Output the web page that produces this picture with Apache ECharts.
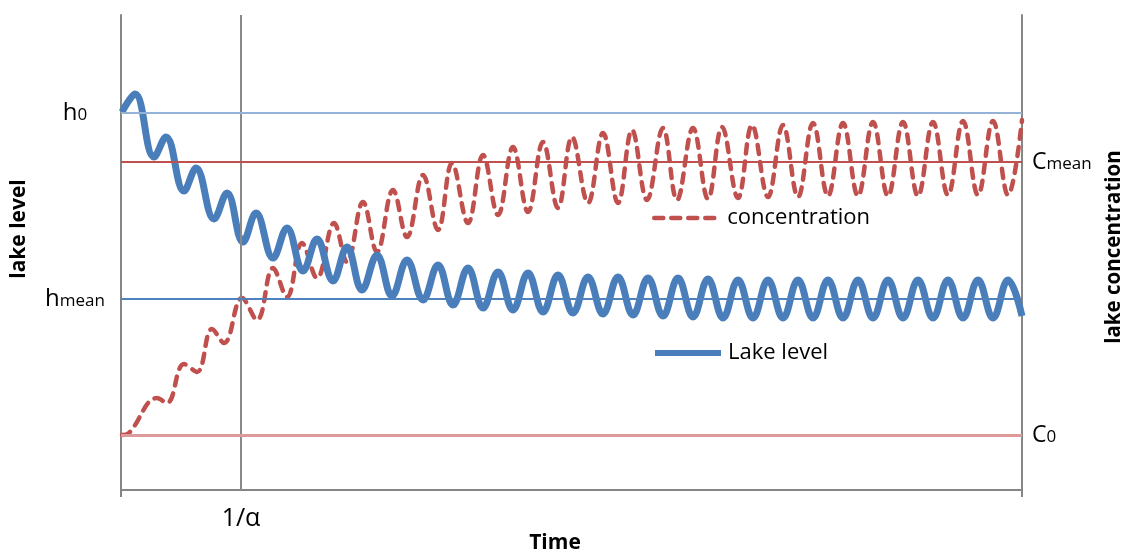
<!DOCTYPE html>
<html>
<head>
<meta charset="utf-8">
<script src="https://cdn.jsdelivr.net/npm/echarts@6/dist/echarts.min.js"></script>
<style>
  html, body { margin: 0; padding: 0; background: #fff; }
  #chart { width: 1125px; height: 553px; }
</style>
</head>
<body>
<div id="chart"></div>
<script>
// time axis (arbitrary units), 1/alpha at 120
const timeMax = 901;
const alphaTime = 120;

// reference levels (arbitrary units)
const h0 = 377, hMean = 191;
const cMean = 328, c0 = 55;

// lake level: turning points
const levelTime = [1, 14, 33, 45, 63, 75, 93, 106, 122, 135, 152, 166, 182, 196, 212, 226, 241, 256, 271, 286,
  302, 317, 332, 347, 362, 377, 392, 407, 422, 437, 452, 467, 482, 497, 512, 527, 542, 557, 572, 587,
  602, 617, 632, 647, 662, 677, 692, 707, 722, 737, 752, 767, 782, 797, 812, 827, 842, 857, 872, 887, 901];
const levelValues = [378, 396, 333, 353, 299, 322, 271, 297, 248, 277, 232, 262, 219, 251, 209, 243, 200, 235, 194, 230,
  190, 225, 185, 222, 182, 218, 180, 217, 178, 215, 177, 213, 176, 213, 175, 212, 174, 212, 173, 211,
  172, 210, 172, 210, 172, 210, 172, 210, 172, 210, 172, 210, 172, 210, 172, 210, 172, 210, 172, 210, 174];

// concentration: turning points
const concTime = [1, 8, 36, 46, 63, 76, 91, 103, 121, 136, 152, 166, 181, 196, 213, 226, 242, 256, 272, 286,
  302, 317, 331, 347, 362, 377, 392, 407, 422, 437, 451, 467, 482, 497, 511, 526, 542, 556, 572, 587,
  601, 617, 631, 647, 662, 677, 692, 707, 722, 737, 752, 767, 782, 797, 812, 827, 842, 857, 872, 887, 901];
const concValues = [55, 57, 92, 87, 126, 118, 161, 147, 192, 170, 222, 193, 247, 212, 267, 228, 288, 238, 300, 253,
  315, 260, 327, 267, 335, 275, 343, 278, 348, 282, 353, 287, 357, 287, 360, 290, 362, 290, 362, 291,
  363, 292, 365, 293, 365, 293, 367, 294, 367, 294, 368, 294, 368, 294, 368, 295, 369, 295, 369, 295, 370];

const font = 'Open Sans';
const axisGray = '#868686';
const concDash = [9, 8];

const chart = echarts.init(document.getElementById('chart'));

function pairs(xs, ys) {
  return xs.map((x, i) => [x, ys[i]]);
}

chart.setOption({
  animation: false,
  textStyle: { fontFamily: font, color: '#000' },
  grid: {
    left: 121, right: 103, top: 15, bottom: 63,
    containLabel: false,
    outerBoundsMode: 'none'
  },
  legend: [
    {
      data: ['concentration'],
      left: 652, top: 207, padding: 0,
      itemWidth: 66, itemHeight: 16, itemGap: 0,
      itemStyle: { opacity: 0 },
      lineStyle: { width: 4.5, type: concDash, cap: 'round', color: '#c0504d' },
      textStyle: { fontFamily: font, fontSize: 22, color: '#000', padding: [0, 0, 0, 2] }
    },
    {
      data: ['Lake level'],
      left: 652, top: 342, padding: 0,
      itemWidth: 66, itemHeight: 16, itemGap: 0,
      itemStyle: { opacity: 0 },
      lineStyle: { width: 6, color: '#4a7ebb' },
      textStyle: { fontFamily: font, fontSize: 22, color: '#000', padding: [0, 0, 0, 2] }
    }
  ],
  xAxis: {
    type: 'value',
    min: 0, max: timeMax,
    axisLine: { show: true, lineStyle: { color: axisGray, width: 2 } },
    axisTick: { show: true, customValues: [0, timeMax], length: 7, inside: false,
      lineStyle: { color: axisGray, width: 2 } },
    axisLabel: {
      customValues: [alphaTime],
      formatter: () => '1/α',
      margin: 16,
      fontFamily: font, fontSize: 25, color: '#000'
    },
    splitLine: { show: false }
  },
  yAxis: [
    {
      type: 'value', position: 'left',
      min: 0, max: 475,
      axisLine: { show: true, lineStyle: { color: axisGray, width: 2 } },
      axisTick: { show: false },
      splitLine: { show: false },
      axisLabel: {
        customValues: [h0, hMean],
        align: 'center',
        margin: 46,
        formatter: v => v === h0 ? '{b|h}{s|0}' : '{b|h}{s|mean}',
        rich: {
          b: { fontFamily: font, fontSize: 24, color: '#000' },
          s: { fontFamily: font, fontSize: 17, color: '#000', padding: [5, 0, 0, 0] }
        }
      }
    },
    {
      type: 'value', position: 'right',
      min: 0, max: 475,
      axisLine: { show: true, lineStyle: { color: axisGray, width: 2 } },
      axisTick: { show: false },
      splitLine: { show: false },
      axisLabel: {
        customValues: [cMean, c0],
        align: 'left',
        margin: 10,
        formatter: v => v === cMean ? '{b|C}{s|mean}' : '{b|C}{s|0}',
        rich: {
          b: { fontFamily: font, fontSize: 23, color: '#000' },
          s: { fontFamily: font, fontSize: 17, color: '#000', padding: [5, 0, 0, 0] }
        }
      }
    }
  ],
  graphic: [
    { type: 'text', x: 19, y: 229, rotation: Math.PI / 2,
      style: { text: 'lake level', fontFamily: font, fontSize: 21, fontWeight: 'bold',
        fill: '#000', align: 'center', verticalAlign: 'middle' } },
    { type: 'text', x: 1114, y: 247, rotation: Math.PI / 2,
      style: { text: 'lake concentration', fontFamily: font, fontSize: 20.5, fontWeight: 'bold',
        fill: '#000', align: 'center', verticalAlign: 'middle' } },
    { type: 'text', x: 555, y: 543,
      style: { text: 'Time', fontFamily: font, fontSize: 21, fontWeight: 'bold',
        fill: '#000', align: 'center', verticalAlign: 'middle' } }
  ],
  series: [
    {
      name: 'concentration',
      type: 'line',
      symbol: 'none',
      smooth: 0.4,
      data: pairs(concTime, concValues),
      lineStyle: { color: '#c0504d', width: 4.5, type: concDash, cap: 'round' },
      itemStyle: { color: '#c0504d' },
      markLine: {
        silent: true, symbol: 'none', label: { show: false },
        data: [
          { xAxis: alphaTime, lineStyle: { color: '#898989', width: 2, type: 'solid' } },
          { yAxis: cMean, lineStyle: { color: '#c0504d', width: 2, type: 'solid' } },
          { yAxis: c0, lineStyle: { color: '#dc9a9a', width: 3, type: 'solid' } }
        ]
      },
      z: 2
    },
    {
      name: 'Lake level',
      type: 'line',
      symbol: 'none',
      smooth: 0.4,
      data: pairs(levelTime, levelValues),
      lineStyle: { color: '#4a7ebb', width: 7 },
      itemStyle: { color: '#4a7ebb' },
      markLine: {
        silent: true, symbol: 'none', label: { show: false },
        data: [
          { yAxis: h0, lineStyle: { color: '#95b3d7', width: 2, type: 'solid' } },
          { yAxis: hMean, lineStyle: { color: '#4f81bd', width: 2, type: 'solid' } }
        ]
      },
      z: 3
    }
  ]
});
</script>
</body>
</html>
